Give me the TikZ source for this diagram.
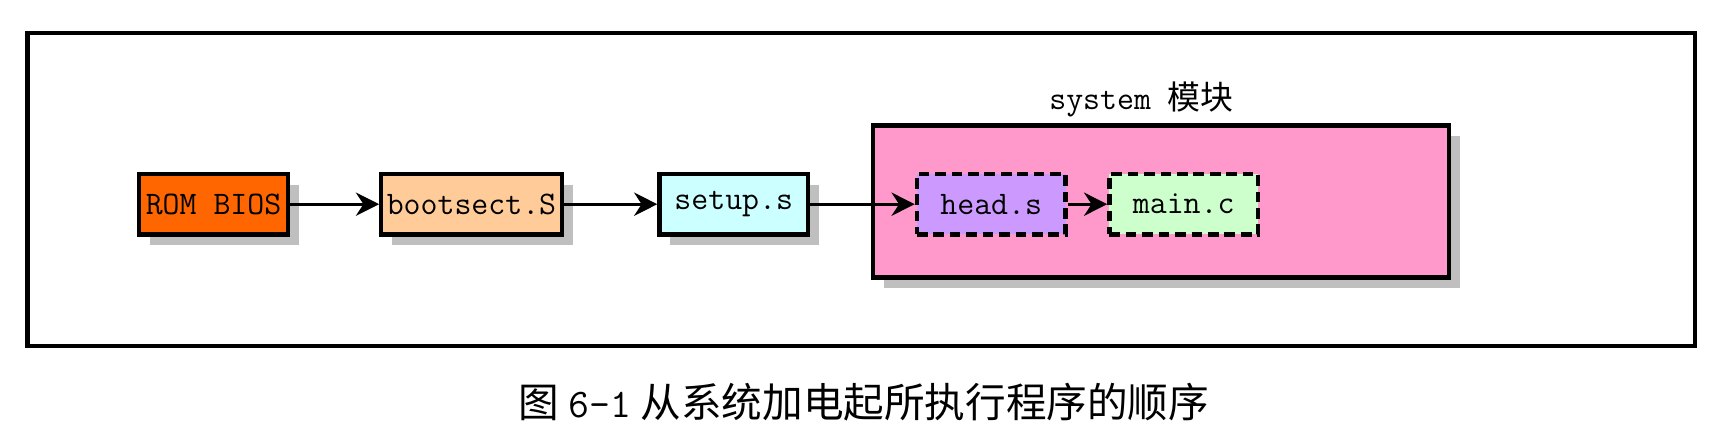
\documentclass[tikz,border=0pt]{standalone}
\usepackage{fontspec}
\newfontfamily\cjk{Noto Sans CJK SC}
\usetikzlibrary{positioning}
\usetikzlibrary{arrows.meta}
\usetikzlibrary{shadows}

\definecolor{romcolor}{HTML}{FF6600}
\definecolor{bootcolor}{HTML}{FFCC99}
\definecolor{setupcolor}{HTML}{CCFFFF}
\definecolor{syscolor}{HTML}{FF99CC}
\definecolor{headcolor}{HTML}{CC99FF}
\definecolor{maincolor}{HTML}{CCFFCC}

\tikzset{
  prog/.style={draw, line width=2.2pt, minimum width=2.7cm, minimum height=1.1cm,
    inner xsep=0.1cm, font=\fontsize{17}{20}\selectfont\ttfamily},
  shadowed/.style={drop shadow={shadow xshift=0.2cm, shadow yshift=-0.2cm,
    fill=black!25, opacity=1}},
  part/.style={prog, dash pattern=on 5.5pt off 3pt},
  flow/.style={-{Stealth[length=12pt,width=12pt]}, line width=1.7pt},
}

\begin{document}
\begin{tikzpicture}
    \useasboundingbox (0,0) rectangle (31.36,-8.0);
    \draw[line width=2.2pt] (0.5,-0.6) rectangle (30.8,-6.28);

    \node(sys) [draw, line width=2.2pt, fill=syscolor, shadowed,
        minimum width=10.46cm, minimum height=2.76cm] at (21.09,-3.66) {};
    \node(syslabel) at (20.74,-1.8) {\fontsize{17}{20}\selectfont\ttfamily system \cjk 模块};

    \node(rom) [prog, fill=romcolor, shadowed] at (3.88,-3.71) {ROM BIOS};
    \node(boot) [prog, fill=bootcolor, shadowed, right=1.62cm of rom] {bootsect.S};
    \node(setup) [prog, fill=setupcolor, shadowed, right=1.7cm of boot] {setup.s};
    \node(head) [part, fill=headcolor, right=1.9cm of setup] {head.s};
    \node(main) [part, fill=maincolor, right=0.72cm of head] {main.c};

    \draw[flow] (rom) -- (boot);
    \draw[flow] (boot) -- (setup);
    \draw[flow] (setup) -- (head);
    \draw[flow] (head) -- (main);

    \node(caption) at (15.7,-7.3) {\fontsize{21}{24}\selectfont\cjk 图 {\ttfamily 6-1} 从系统加电起所执行程序的顺序};
\end{tikzpicture}
\end{document}
